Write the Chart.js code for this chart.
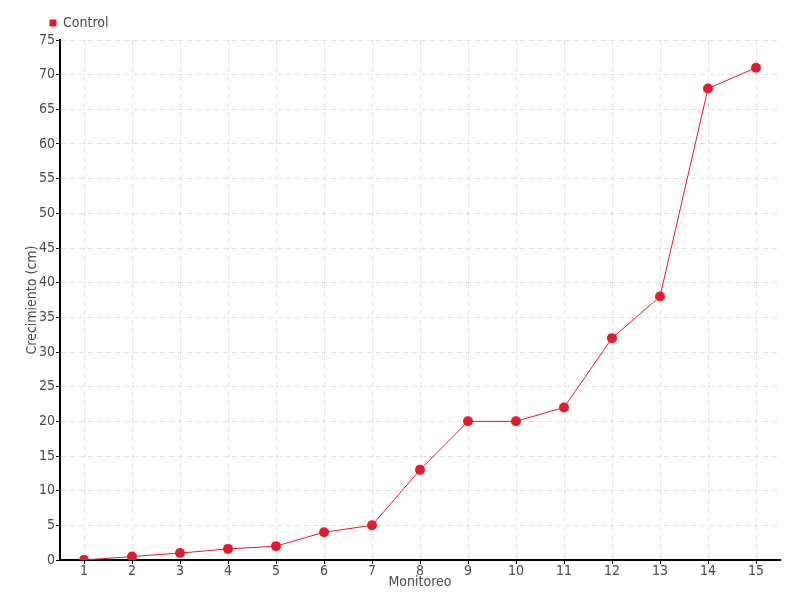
<!DOCTYPE html>
<html>
<head>
<meta charset="utf-8">
<script src="https://cdn.jsdelivr.net/npm/chart.js@4"></script>
<style>
  html, body { margin: 0; padding: 0; background: #fff; }
  #wrap { width: 800px; height: 600px; }
</style>
</head>
<body>
<div id="wrap"><canvas id="lineChart" width="800" height="600"></canvas></div>
<script>
// datos del gráfico
const monitoreos = ['1', '2', '3', '4', '5', '6', '7', '8', '9', '10', '11', '12', '13', '14', '15'];
const control = [0, 0.5, 1, 1.6, 2, 4, 5, 13, 20, 20, 22, 32, 38, 68, 71];
const yMin = 0;
const yMax = 75;
const yStep = 5;

const FONT = '"Liberation Sans Narrow", "DejaVu Sans Condensed", sans-serif';
const RED = '#e31a2c';
const GRID = '#dedede';
const TEXT = '#4a4a4a';

// mueve la leyenda un poco hacia la derecha (como en el original)
const legendShift = {
    id: 'legendShift',
    afterLayout(chart) {
        if (chart.legend) {
            chart.legend.left += 42;
            chart.legend.right += 42;
        }
    }
};

const ctx = document.getElementById('lineChart').getContext('2d');
new Chart(ctx, {
    type: 'line',
    data: {
        labels: monitoreos,
        datasets: [{
            label: 'Control',
            data: control,
            borderColor: RED,
            backgroundColor: RED,
            borderWidth: 1,
            pointRadius: 5,
            pointHoverRadius: 5,
            pointBorderWidth: 0,
            tension: 0
        }]
    },
    options: {
        responsive: false,
        animation: false,
        layout: { padding: { left: 0, right: 20, top: 8, bottom: 0 } },
        scales: {
            x: {
                offset: true,
                border: { color: '#000', width: 2, dash: [5, 4] },
                grid: {
                    color: GRID,
                    tickColor: '#000',
                    tickBorderDash: [],
                    tickLength: 4,
                    offset: false
                },
                ticks: { color: TEXT, font: { family: FONT, size: 14 }, padding: -1 },
                title: {
                    display: true,
                    text: 'Monitoreo',
                    color: TEXT,
                    font: { family: FONT, size: 14 },
                    padding: { top: 0, bottom: 9 }
                },
                afterFit: function(scale) { scale.height = 40; }
            },
            y: {
                min: yMin,
                max: yMax,
                border: { color: '#000', width: 2, dash: [5, 4] },
                grid: {
                    color: GRID,
                    tickColor: '#000',
                    tickBorderDash: [],
                    tickLength: 4
                },
                ticks: { stepSize: yStep, color: TEXT, font: { family: FONT, size: 14 }, padding: 1 },
                title: {
                    display: true,
                    text: 'Crecimiento (cm)',
                    color: TEXT,
                    font: { family: FONT, size: 14 },
                    padding: { top: 24, bottom: 0 }
                },
                afterFit: function(scale) { scale.width = 60; }
            }
        },
        plugins: {
            legend: {
                position: 'top',
                align: 'start',
                labels: {
                    color: TEXT,
                    font: { family: FONT, size: 14 },
                    boxWidth: 6,
                    boxHeight: 6,
                    padding: 8
                }
            },
            tooltip: { enabled: false }
        }
    },
    plugins: [legendShift]
});
</script>
</body>
</html>
